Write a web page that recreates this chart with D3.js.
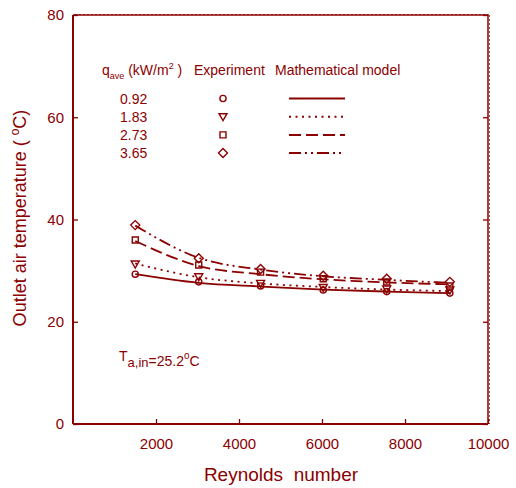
<!DOCTYPE html>
<html>
<head>
<meta charset="utf-8">
<script src="https://cdn.jsdelivr.net/npm/d3@7"></script>
<style>
  html, body { margin: 0; padding: 0; background: #fff; }
  svg { display: block; font-family: Arial, "Liberation Sans", Helvetica, sans-serif; }
</style>
</head>
<body>
<svg id="chart" width="516" height="488"></svg>
<script>
// ---- data ----
const reynolds = [1500, 3030, 4520, 6030, 7560, 9080];
const qLabels = ["0.92", "1.83", "2.73", "3.65"];
const exp092 = [29.3, 27.8, 27.0, 26.2, 25.9, 25.6];
const exp183 = [31.3, 28.8, 27.5, 26.7, 26.4, 26.2];
const exp273 = [36.0, 31.1, 29.7, 28.4, 27.8, 27.0];
const exp365 = [38.9, 32.4, 30.3, 29.0, 28.4, 27.8];
const mod092 = [29.3, 27.6, 26.9, 26.3, 25.9, 25.6];
const mod183 = [31.4, 28.7, 27.5, 26.8, 26.3, 26.0];
const mod273 = [35.8, 30.9, 29.3, 28.3, 27.7, 27.3];
const mod365 = [38.8, 32.5, 30.2, 28.9, 28.2, 27.6];
const xTicks = [2000, 4000, 6000, 8000, 10000];
const yTicks = [0, 20, 40, 60, 80];

const C = "#8b0000";
const svg = d3.select("#chart");
const L = 73, R = 488, T = 15, B = 424;
const x = d3.scaleLinear().domain([0, 10000]).range([L, R]);
const y = d3.scaleLinear().domain([0, 80]).range([B, T]);

// frame
const g = svg.append("g");
g.append("line").attr("x1", L).attr("x2", L).attr("y1", T).attr("y2", B).attr("stroke", C).attr("stroke-width", 2);
g.append("line").attr("x1", L).attr("x2", R).attr("y1", B).attr("y2", B).attr("stroke", C).attr("stroke-width", 2);
g.append("line").attr("x1", L).attr("x2", R).attr("y1", T).attr("y2", T).attr("stroke", C).attr("stroke-width", 1.5);
g.append("line").attr("x1", R).attr("x2", R).attr("y1", T).attr("y2", B).attr("stroke", C).attr("stroke-width", 1.5);
// dotted overlays on top/right edges
g.append("line").attr("x1", L + 2).attr("x2", R + 1).attr("y1", T - 0.5).attr("y2", T - 0.5).attr("stroke", C).attr("stroke-width", 1).attr("stroke-dasharray", "2,2").attr("opacity", 0.7);
g.append("line").attr("x1", R + 1.5).attr("x2", R + 1.5).attr("y1", T).attr("y2", B).attr("stroke", C).attr("stroke-width", 1).attr("stroke-dasharray", "2,2").attr("opacity", 0.7);

// axes
const xAxis = d3.axisBottom(x).tickValues(xTicks).tickSize(-5).tickPadding(14).tickFormat(d3.format("d"));
const xg = svg.append("g").attr("transform", `translate(0,${B})`).call(xAxis);
const yAxis = d3.axisLeft(y).tickValues(yTicks).tickSize(-5).tickPadding(9).tickFormat(d3.format("d"));
const yg = svg.append("g").attr("transform", `translate(${L},0)`).call(yAxis);
const yAxisR = d3.axisRight(y).tickValues(yTicks).tickSize(-5).tickFormat("");
const yr = svg.append("g").attr("transform", `translate(${R},0)`).call(yAxisR);
[xg, yg, yr].forEach(a => {
  a.select(".domain").remove();
  a.selectAll(".tick line").attr("stroke", C).attr("stroke-width", 1.3);
  a.selectAll(".tick text").attr("fill", C).attr("font-size", 15);
});
xg.selectAll(".tick text").attr("dy", "0.71em");

// axis titles
svg.append("text").attr("x", 281).attr("y", 481).attr("text-anchor", "middle")
  .attr("fill", C).attr("font-size", 19).attr("xml:space", "preserve").text("Reynolds  number");
const yt = svg.append("text").attr("transform", "translate(26,218) rotate(-90)")
  .attr("text-anchor", "middle").attr("fill", C).attr("font-size", 18);
yt.append("tspan").text("Outlet air temperature ( ");
yt.append("tspan").attr("font-size", 12).attr("dy", -7).text("o");
yt.append("tspan").attr("dy", 7).text("C)");

// series
const series = [
  { q: qLabels[0], exp: exp092, mod: mod092, sym: d3.symbolCircle, size: 30, dash: null },
  { q: qLabels[1], exp: exp183, mod: mod183, sym: "tri", size: 0, dash: "2,4.5" },
  { q: qLabels[2], exp: exp273, mod: mod273, sym: d3.symbolSquare, size: 36, dash: "12,5" },
  { q: qLabels[3], exp: exp365, mod: mod365, sym: d3.symbolDiamond2, size: 0, dash: "12,4,2,4,2,4" }
];

function symbolPath(s) {
  if (s.sym === "tri") return "M-4,-3L4,-3L0,4Z";
  if (s.sym === d3.symbolDiamond2) return "M0,-4.5L4.5,0L0,4.5L-4.5,0Z";
  return d3.symbol().type(s.sym).size(s.size)();
}

const line = d3.line().x(d => x(d[0])).y(d => y(d[1])).curve(d3.curveMonotoneX);
const plot = svg.append("g");
series.forEach(s => {
  plot.append("path").datum(reynolds.map((r, i) => [r, s.mod[i]]))
    .attr("d", line).attr("fill", "none").attr("stroke", C).attr("stroke-width", 1.8)
    .attr("stroke-dasharray", s.dash);
});
series.forEach(s => {
  plot.selectAll(null).data(reynolds.map((r, i) => [r, s.exp[i]])).enter()
    .append("path").attr("d", symbolPath(s))
    .attr("transform", d => `translate(${x(d[0])},${y(d[1])})`)
    .attr("fill", "none").attr("stroke", C).attr("stroke-width", 1.4);
});

// legend
const lg = svg.append("g").attr("fill", C).attr("font-size", 14);
const h = lg.append("text").attr("x", 102).attr("y", 75);
h.append("tspan").text("q");
h.append("tspan").attr("font-size", 9).attr("dy", 4).text("ave");
h.append("tspan").attr("dy", -4).text(" (kW/m");
h.append("tspan").attr("font-size", 9).attr("dy", -6).text("2");
h.append("tspan").attr("dy", 6).text(" )");
lg.append("text").attr("x", 194).attr("y", 75).text("Experiment");
lg.append("text").attr("x", 275).attr("y", 75).text("Mathematical model");
series.forEach((s, i) => {
  const cy = 98.5 + i * 18.2;
  lg.append("text").attr("x", 120).attr("y", cy + 5).text(s.q);
  lg.append("path").attr("d", symbolPath(s)).attr("transform", `translate(223,${cy})`)
    .attr("fill", "none").attr("stroke", C).attr("stroke-width", 1.4);
  lg.append("line").attr("x1", 289).attr("x2", 345).attr("y1", cy).attr("y2", cy)
    .attr("stroke", C).attr("stroke-width", 2).attr("stroke-dasharray", s.dash);
});

// inlet temperature note
const nt = svg.append("text").attr("x", 119).attr("y", 361).attr("fill", C).attr("font-size", 14);
nt.append("tspan").text("T");
nt.append("tspan").attr("font-size", 13).attr("dy", 6).text("a,in");
nt.append("tspan").attr("dy", -1).text("=25.2");
nt.append("tspan").attr("font-size", 10).attr("dy", -7).text("o");
nt.append("tspan").attr("dy", 7).text("C");
</script>
</body>
</html>
